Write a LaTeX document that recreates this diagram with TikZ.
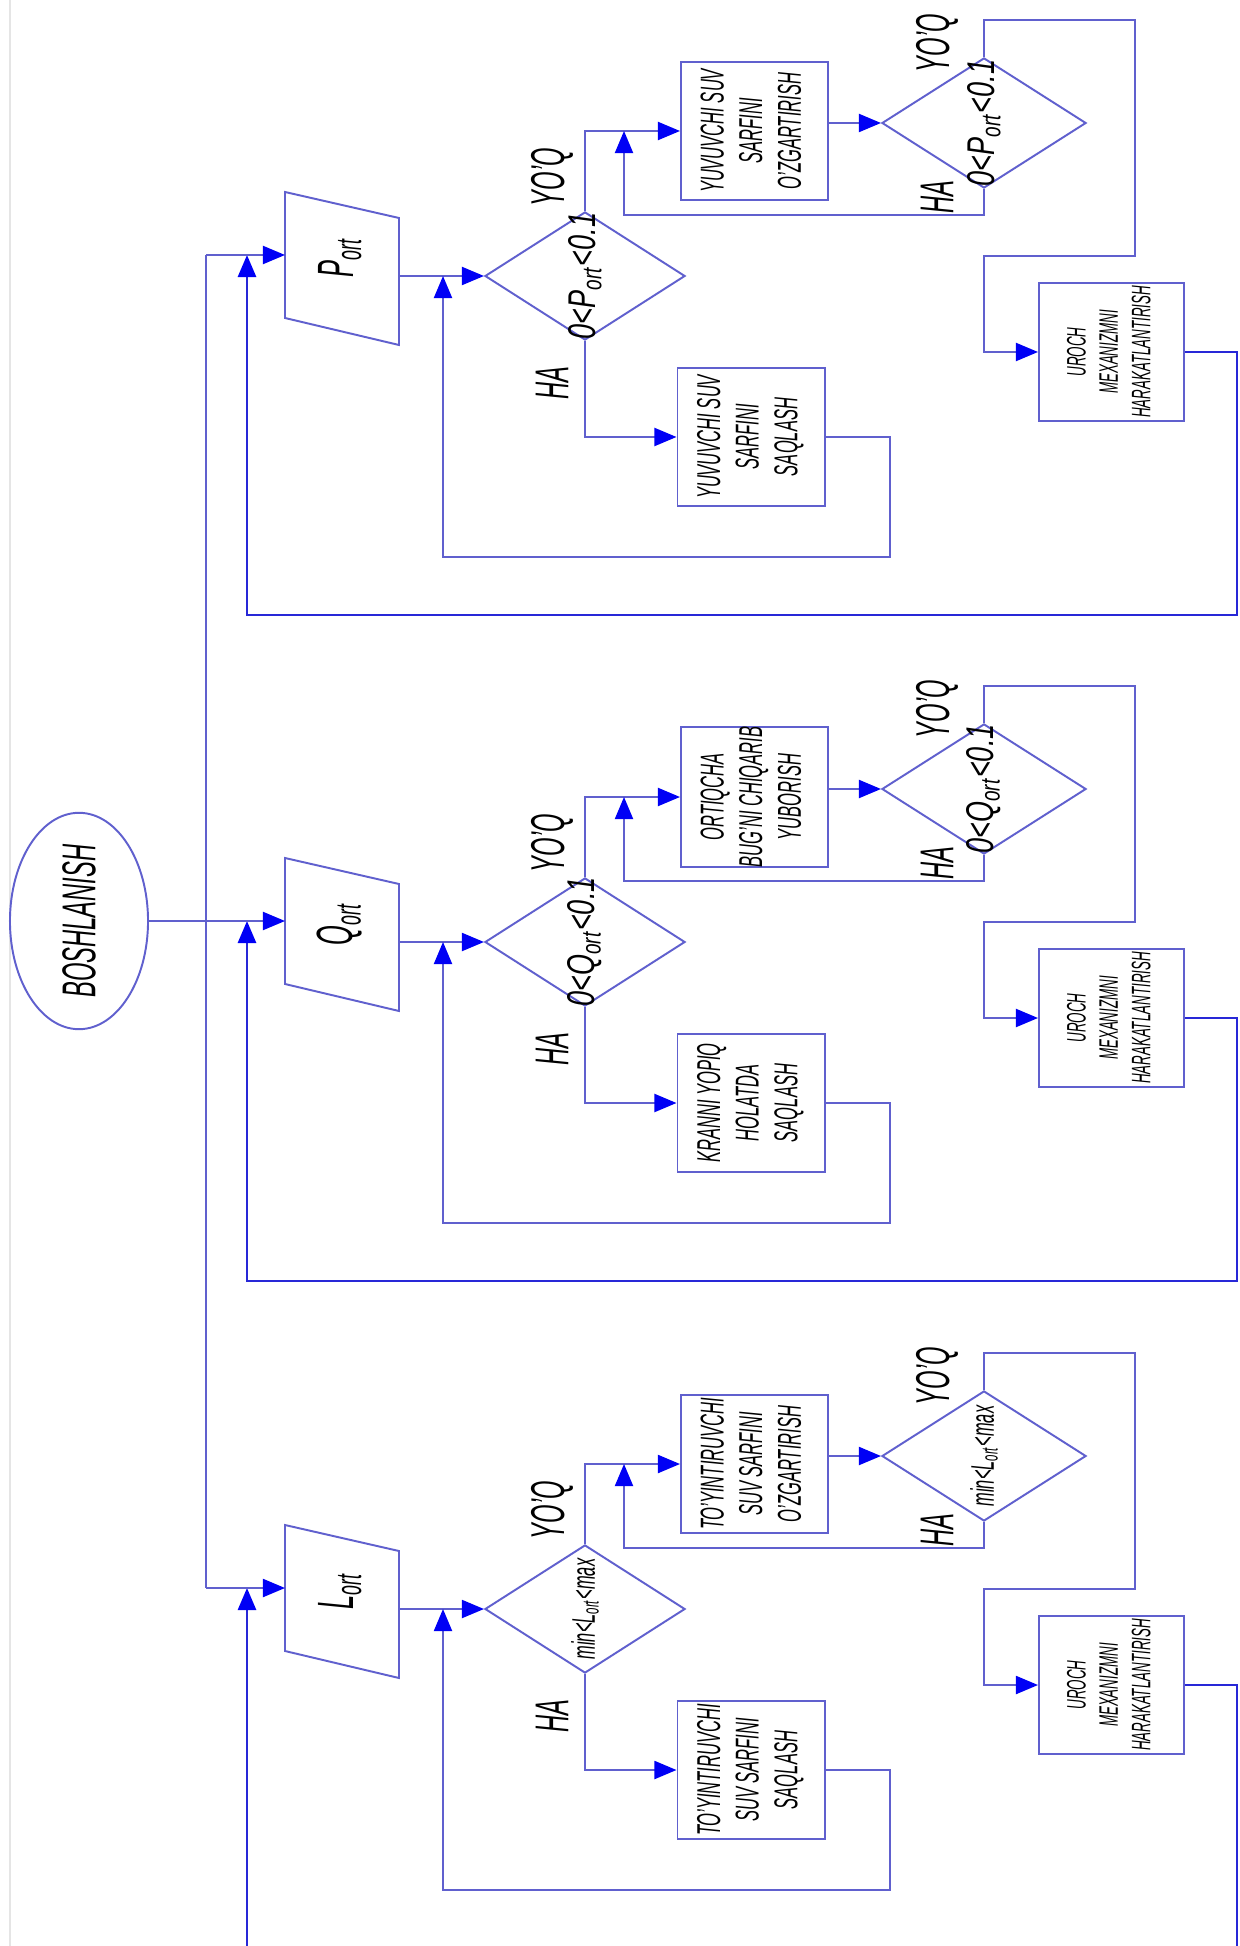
\documentclass[tikz,border=0pt]{standalone}
\usepackage{fontspec}
\setmainfont{Liberation Sans}[FakeStretch=0.5]
\newfontfamily\diafont{Liberation Sans}[FakeStretch=0.7]
\usetikzlibrary{arrows.meta,shapes.geometric}
\definecolor{lineblue}{RGB}{96,96,206}
\definecolor{loopblue}{RGB}{40,40,215}
\definecolor{tipblue}{RGB}{0,0,245}
\newcommand{\rottext}[1]{\rotatebox{90}{\begin{tabular}{@{}c@{}}#1\end{tabular}}}
\tikzset{
    flow/.style={draw=lineblue, line width=0.55pt},
    % ko'k uchburchak strelka
    flowarrow/.style={
        flow,
        -{Triangle[length=2.2mm, width=1.8mm, color=tipblue]}
    },
    looparrow/.style={flowarrow, draw=loopblue, line width=0.75pt},
    procbox/.style={
        draw=lineblue, line width=0.55pt, rectangle,
        minimum width=1.47cm, minimum height=1.38cm, inner sep=0pt,
        font=\fontsize{9.4}{11}\selectfont\itshape
    },
    urochbox/.style={procbox, minimum width=1.45cm, font=\fontsize{7.6}{9.2}\selectfont\itshape},
    decision/.style={draw=lineblue, line width=0.55pt, diamond, minimum width=2cm, minimum height=1.28cm, inner sep=0pt},
    dectext/.style={rotate=90, inner sep=0pt, font=\diafont\fontsize{11}{13}\selectfont\itshape},
    smalldec/.style={rotate=90, inner sep=0pt, font=\fontsize{9.3}{11}\selectfont\itshape},
    answer/.style={rotate=90, inner sep=0pt, font=\fontsize{13.5}{16}\selectfont\itshape},
    inputtext/.style={rotate=90, inner sep=0pt, font=\fontsize{14.5}{17}\selectfont\itshape}
}

\begin{document}
\begin{tikzpicture}[x=0.01cm, y=-0.01cm]
	\useasboundingbox[fill=white] (0,0) rectangle (1240,1946);
	\draw[gray!20, line width=0.6pt] (10,0) -- (10,1946);
	
	% boshlanish
	\node[draw=lineblue, line width=0.55pt, ellipse, minimum width=1.38cm, minimum height=2cm, inner sep=0pt] (start) at (79,921)
	{\rotatebox{90}{\fontsize{13.5}{16}\selectfont\itshape BOSHLANISH}};
	\coordinate (trP) at (206,255);
	\coordinate (trL) at (206,1588);
	\draw[flow] (trP) -- (trL);
	
	% P bo'limi
	\begin{scope}[shift={(0,255)}]
		\draw[flow] (285,-63) -- (399,-37) -- (399,90) -- (285,63) -- cycle;
		\coordinate (inP) at (285,0);
		\coordinate (outP) at (399,21);
		\node[inputtext] (tP) at (340,3) {P\textsubscript{ort}};
		\node[decision] (dP1) at (585,21) {};
		\node[dectext] (tP1) at (dP1) {0<P\textsubscript{ort}<0.1};
		\node[procbox] (bP1) at (754.5,-124) {\rottext{YUVUVCHI SUV\\SARFINI\\O'ZGARTIRISH}};
		\node[procbox] (bP2) at (751,182) {\rottext{YUVUVCHI SUV\\SARFINI\\SAQLASH}};
		\node[decision, minimum width=2.04cm, minimum height=1.3cm] (dP2) at (984,-132) {};
		\node[dectext] (tP2) at (dP2) {0<P\textsubscript{ort}<0.1};
		\node[urochbox] (uP) at (1111.5,97) {\rottext{UROCH\\MEXANIZMNI\\HARAKATLANTIRISH}};
		\node[answer] (yP1) at (552,-78) {YO'Q};
		\node[answer] (hP1) at (552,128) {HA};
		\node[answer] (yP2) at (937,-212) {YO'Q};
		\node[answer] (hP2) at (937,-58) {HA};
		\coordinate (rP0) at (247,0);
		\coordinate (rP1) at (443,21);
		\coordinate (rP2) at (624,-124);
		\draw[flowarrow] (outP) -- (dP1.west);
		\draw[flowarrow] (dP1.north) |- (bP1.west);
		\draw[flowarrow] (dP1.south) |- (bP2.west);
		\draw[flowarrow] (bP1.east |- dP2.west) -- (dP2.west);
		\draw[flowarrow] (bP2.east) -| (890,302) -| (rP1);
		\draw[flowarrow] (dP2.north) -- (984,-235) -| (1135,1) -| (984,97) -- (uP.west);
		\draw[flowarrow] (dP2.south) -- (984,-40) -| (rP2);
		\draw[looparrow] (uP.east) -| (1237,360) -| (rP0);
	\end{scope}
	
	% Q bo'limi
	\begin{scope}[shift={(0,921)}]
		\draw[flow] (285,-63) -- (399,-37) -- (399,90) -- (285,63) -- cycle;
		\coordinate (inQ) at (285,0);
		\coordinate (outQ) at (399,21);
		\node[inputtext] (tQ) at (340,3) {Q\textsubscript{ort}};
		\node[decision] (dQ1) at (585,21) {};
		\node[dectext] (tQ1) at (dQ1) {0<Q\textsubscript{ort}<0.1};
		\node[procbox] (bQ1) at (754.5,-124) {\rottext{ORTIQCHA\\BUG'NI CHIQARIB\\YUBORISH}};
		\node[procbox] (bQ2) at (751,182) {\rottext{KRANNI YOPIQ\\HOLATDA\\SAQLASH}};
		\node[decision, minimum width=2.04cm, minimum height=1.3cm] (dQ2) at (984,-132) {};
		\node[dectext] (tQ2) at (dQ2) {0<Q\textsubscript{ort}<0.1};
		\node[urochbox] (uQ) at (1111.5,97) {\rottext{UROCH\\MEXANIZMNI\\HARAKATLANTIRISH}};
		\node[answer] (yQ1) at (552,-78) {YO'Q};
		\node[answer] (hQ1) at (552,128) {HA};
		\node[answer] (yQ2) at (937,-212) {YO'Q};
		\node[answer] (hQ2) at (937,-58) {HA};
		\coordinate (rQ0) at (247,0);
		\coordinate (rQ1) at (443,21);
		\coordinate (rQ2) at (624,-124);
		\draw[flowarrow] (outQ) -- (dQ1.west);
		\draw[flowarrow] (dQ1.north) |- (bQ1.west);
		\draw[flowarrow] (dQ1.south) |- (bQ2.west);
		\draw[flowarrow] (bQ1.east |- dQ2.west) -- (dQ2.west);
		\draw[flowarrow] (bQ2.east) -| (890,302) -| (rQ1);
		\draw[flowarrow] (dQ2.north) -- (984,-235) -| (1135,1) -| (984,97) -- (uQ.west);
		\draw[flowarrow] (dQ2.south) -- (984,-40) -| (rQ2);
		\draw[looparrow] (uQ.east) -| (1237,360) -| (rQ0);
	\end{scope}
	
	% L bo'limi
	\begin{scope}[shift={(0,1588)}]
		\draw[flow] (285,-63) -- (399,-37) -- (399,90) -- (285,63) -- cycle;
		\coordinate (inL) at (285,0);
		\coordinate (outL) at (399,21);
		\node[inputtext] (tL) at (340,3) {L\textsubscript{ort}};
		\node[decision] (dL1) at (585,21) {};
		\node[smalldec] (tL1) at (dL1) {min<L\textsubscript{ort}<max};
		\node[procbox] (bL1) at (754.5,-124) {\rottext{TO'YINTIRUVCHI\\SUV SARFINI\\O'ZGARTIRISH}};
		\node[procbox] (bL2) at (751,182) {\rottext{TO'YINTIRUVCHI\\SUV SARFINI\\SAQLASH}};
		\node[decision, minimum width=2.04cm, minimum height=1.3cm] (dL2) at (984,-132) {};
		\node[smalldec] (tL2) at (dL2) {min<L\textsubscript{ort}<max};
		\node[urochbox] (uL) at (1111.5,97) {\rottext{UROCH\\MEXANIZMNI\\HARAKATLANTIRISH}};
		\node[answer] (yL1) at (552,-78) {YO'Q};
		\node[answer] (hL1) at (552,128) {HA};
		\node[answer] (yL2) at (937,-212) {YO'Q};
		\node[answer] (hL2) at (937,-58) {HA};
		\coordinate (rL0) at (247,0);
		\coordinate (rL1) at (443,21);
		\coordinate (rL2) at (624,-124);
		\draw[flowarrow] (outL) -- (dL1.west);
		\draw[flowarrow] (dL1.north) |- (bL1.west);
		\draw[flowarrow] (dL1.south) |- (bL2.west);
		\draw[flowarrow] (bL1.east |- dL2.west) -- (dL2.west);
		\draw[flowarrow] (bL2.east) -| (890,302) -| (rL1);
		\draw[flowarrow] (dL2.north) -- (984,-235) -| (1135,1) -| (984,97) -- (uL.west);
		\draw[flowarrow] (dL2.south) -- (984,-40) -| (rL2);
		\draw[looparrow] (uL.east) -| (1237,360) -| (rL0);
	\end{scope}
	
	% kirishlar
	\draw[flowarrow] (trP) -- (inP);
	\draw[flowarrow] (start.east) -- (inQ);
	\draw[flowarrow] (trL) -- (inL);
\end{tikzpicture}
\end{document}
